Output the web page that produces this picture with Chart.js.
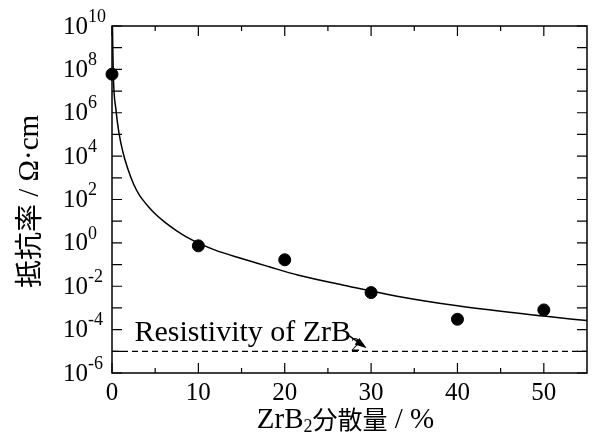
<!DOCTYPE html>
<html>
<head>
<meta charset="utf-8">
<script src="https://cdn.jsdelivr.net/npm/chart.js@4/dist/chart.umd.min.js"></script>
<style>
  html, body { margin: 0; padding: 0; background: #fff; }
  #wrap { width: 594px; height: 438px; }
</style>
</head>
<body>
<div id="wrap"><canvas id="chart" width="594" height="438"></canvas></div>
<script>
/* ── Data ───────────────────────────────────────────────────────────────────── */
const ZRB2_PCT = [0, 10, 20, 30, 40, 50];
const RESISTIVITY = [6e7, 0.73, 0.166, 5.1e-3, 3.0e-4, 8.1e-4];

// fitted curve
const FIT_PCT = [0.05, 0.15, 0.46, 0.8, 1.26, 1.83, 2.52, 3.21, 3.9, 4.81, 6.07, 7.45, 8.71, 10.1, 11.8, 14.9, 18.1, 21.5, 27.4, 33, 40, 50, 55];
const FIT_RES = [1e10, 6e7, 1.35e6, 1.2e5, 1.55e4, 2.6e3, 490, 150, 66, 26, 9.3, 3.7, 1.8, 0.95, 0.49, 0.195, 0.081, 0.033, 0.01, 3.5e-3, 1.26e-3, 4.2e-4, 2.6e-4];

const ZRB2_RESISTIVITY = 1e-5;

const X_MIN = 0, X_MAX = 55;
const X_LABELS = [0, 10, 20, 30, 40, 50];
const X_MINOR = [5, 15, 25, 35, 45];
const Y_MIN_EXP = -6, Y_MAX_EXP = 10;
const Y_LABEL_EXP = [10, 8, 6, 4, 2, 0, -2, -4, -6];

/* ── Fonts ──────────────────────────────────────────────────────────────────── */
const SERIF = '"Liberation Serif", "DejaVu Serif", serif';
const CJK = '"Noto Sans CJK JP", sans-serif';

/* ── Helpers ────────────────────────────────────────────────────────────────── */
function drawPieces(ctx, pieces, x, y) {
  // pieces: [{text, font, dy}] drawn left to right from x
  pieces.forEach((p) => {
    ctx.font = p.font;
    ctx.fillText(p.text, x, y + (p.dy || 0));
    x += ctx.measureText(p.text).width;
  });
  return x;
}

function piecesWidth(ctx, pieces) {
  return pieces.reduce((w, p) => { ctx.font = p.font; return w + ctx.measureText(p.text).width; }, 0);
}

/* ── Axes / labels plugin ───────────────────────────────────────────────────── */
const framePlugin = {
  id: "frame",
  afterDatasetsDraw(chart) {
    const { ctx, chartArea: a } = chart;
    const xs = chart.scales.x, ys = chart.scales.y;
    ctx.save();
    ctx.strokeStyle = "#000";
    ctx.fillStyle = "#000";
    ctx.lineWidth = 1.5;
    ctx.strokeRect(a.left, a.top, a.right - a.left, a.bottom - a.top);

    // y ticks (inward, both sides)
    ctx.lineWidth = 1.2;
    ctx.beginPath();
    for (let e = Y_MIN_EXP; e <= Y_MAX_EXP; e++) {
      const py = ys.getPixelForValue(Math.pow(10, e));
      ctx.moveTo(a.left, py); ctx.lineTo(a.left + 10, py);
      ctx.moveTo(a.right, py); ctx.lineTo(a.right - 10, py);
    }
    // x ticks (inward, bottom and top)
    X_LABELS.forEach((v) => {
      const px = xs.getPixelForValue(v);
      ctx.moveTo(px, a.bottom); ctx.lineTo(px, a.bottom - 10);
      ctx.moveTo(px, a.top); ctx.lineTo(px, a.top + 10);
    });
    X_MINOR.forEach((v) => {
      const px = xs.getPixelForValue(v);
      ctx.moveTo(px, a.bottom); ctx.lineTo(px, a.bottom - 5);
      ctx.moveTo(px, a.top); ctx.lineTo(px, a.top + 5);
    });
    ctx.stroke();

    // y tick labels 10^n
    ctx.textAlign = "left";
    ctx.textBaseline = "middle";
    Y_LABEL_EXP.forEach((e) => {
      const py = ys.getPixelForValue(Math.pow(10, e));
      drawPieces(ctx, [
        { text: "10", font: `25px ${SERIF}`, dy: 1 },
        { text: String(e), font: `18px ${SERIF}`, dy: -9 },
      ], a.left - 49, py);
    });

    // x tick labels
    ctx.textAlign = "center";
    ctx.textBaseline = "top";
    ctx.font = `25px ${SERIF}`;
    X_LABELS.forEach((v) => {
      ctx.fillText(String(v), xs.getPixelForValue(v), a.bottom + 8);
    });

    // x title
    ctx.textAlign = "left";
    ctx.textBaseline = "alphabetic";
    const xTitle = [
      { text: "ZrB", font: `29px ${SERIF}` },
      { text: "2", font: `18px ${SERIF}`, dy: 4 },
      { text: "分散量", font: `25px ${CJK}`, dy: 1 },
      { text: " / %", font: `29px ${SERIF}` },
    ];
    const xw = piecesWidth(ctx, xTitle);
    drawPieces(ctx, xTitle, (a.left + a.right) / 2 - xw / 2 - 4, a.bottom + 55);

    // y title (rotated)
    const yTitle = [
      { text: "抵抗率", font: `28px ${CJK}`, dy: 1 },
      { text: " / Ω·cm", font: `29px ${SERIF}` },
    ];
    ctx.save();
    ctx.translate(38, (a.top + a.bottom) / 2 + 2);
    ctx.rotate(-Math.PI / 2);
    const yw = piecesWidth(ctx, yTitle);
    drawPieces(ctx, yTitle, -yw / 2, 0);
    ctx.restore();

    // annotation
    const ly = ys.getPixelForValue(ZRB2_RESISTIVITY);
    const tx = xs.getPixelForValue(2.6);
    const endX = drawPieces(ctx, [
      { text: "Resistivity of ZrB", font: `30px ${SERIF}` },
    ], tx, ly - 10);
    ctx.font = `18px ${SERIF}`;
    ctx.fillText("2", endX, ly);

    // arrow
    const tipX = xs.getPixelForValue(29.5), tipY = ly - 3;
    const sx = endX - 4, sy = ly - 17;
    const ang = Math.atan2(tipY - sy, tipX - sx);
    ctx.lineWidth = 1.5;
    ctx.beginPath();
    ctx.moveTo(sx, sy);
    ctx.lineTo(tipX - 8 * Math.cos(ang), tipY - 8 * Math.sin(ang));
    ctx.stroke();
    ctx.beginPath();
    ctx.moveTo(tipX, tipY);
    ctx.lineTo(tipX - 12 * Math.cos(ang) + 4 * Math.sin(ang), tipY - 12 * Math.sin(ang) - 4 * Math.cos(ang));
    ctx.lineTo(tipX - 12 * Math.cos(ang) - 4 * Math.sin(ang), tipY - 12 * Math.sin(ang) + 4 * Math.cos(ang));
    ctx.closePath();
    ctx.fill();

    ctx.restore();
  },
};

/* ── Chart ──────────────────────────────────────────────────────────────────── */
new Chart(document.getElementById("chart"), {
  type: "scatter",
  data: {
    datasets: [
      {
        label: "ZrB2 resistivity",
        data: [{ x: X_MIN, y: ZRB2_RESISTIVITY }, { x: X_MAX, y: ZRB2_RESISTIVITY }],
        showLine: true,
        borderColor: "#000",
        borderWidth: 1.2,
        borderDash: [6, 4],
        pointRadius: 0,
      },
      {
        label: "fit",
        data: FIT_PCT.map((x, i) => ({ x, y: FIT_RES[i] })),
        showLine: true,
        borderColor: "#000",
        borderWidth: 1.5,
        cubicInterpolationMode: "monotone",
        pointRadius: 0,
      },
      {
        label: "measured",
        data: ZRB2_PCT.map((x, i) => ({ x, y: RESISTIVITY[i] })),
        backgroundColor: "#000",
        borderColor: "#000",
        pointRadius: 6,
        clip: false,
      },
    ],
  },
  options: {
    responsive: false,
    animation: false,
    layout: { padding: { left: 112, right: 2, top: 26, bottom: 65 } },
    plugins: { legend: { display: false }, tooltip: { enabled: false } },
    scales: {
      x: { type: "linear", min: X_MIN, max: X_MAX, display: false },
      y: { type: "logarithmic", min: Math.pow(10, Y_MIN_EXP), max: Math.pow(10, Y_MAX_EXP), display: false },
    },
  },
  plugins: [framePlugin],
});
</script>
</body>
</html>
